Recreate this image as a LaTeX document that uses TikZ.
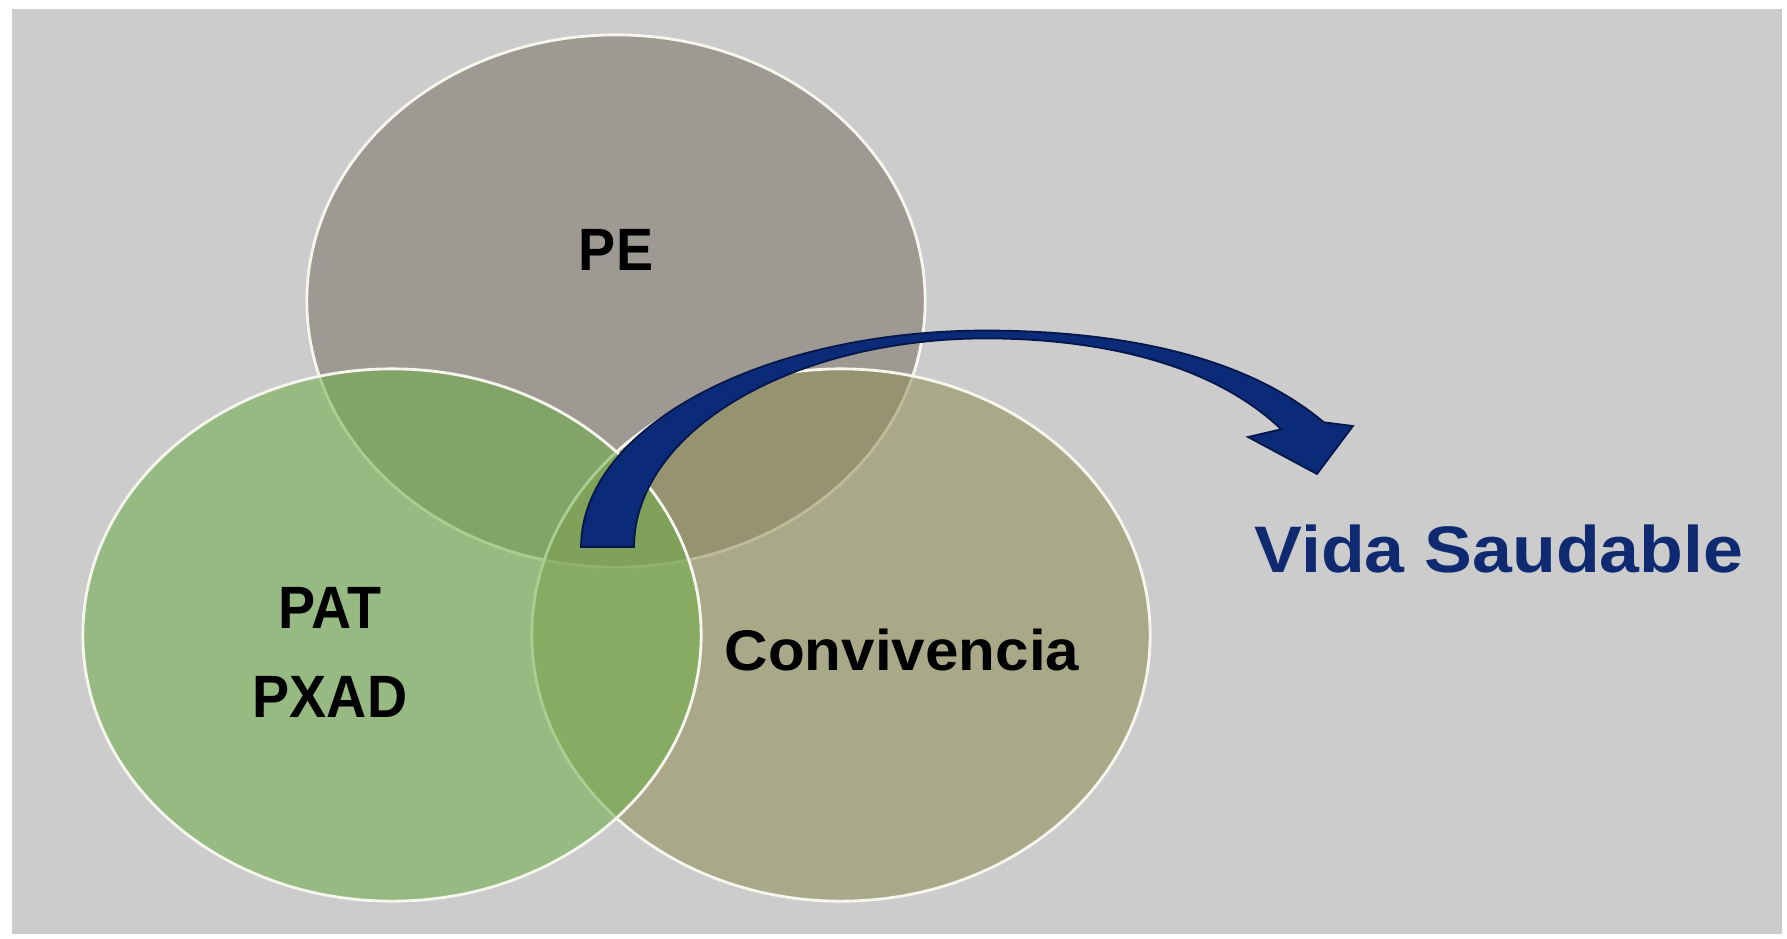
\documentclass[tikz,border=0pt]{standalone}
\usepackage{fontspec}
\setmainfont{Liberation Sans}
\newfontfamily\fnarrow[FakeStretch=0.93,UprightFont={* Bold}]{Liberation Sans}
\newfontfamily\fconv[FakeStretch=1.05,UprightFont={* Bold}]{Liberation Sans}
\newfontfamily\fvida[FakeStretch=1.09,UprightFont={* Bold}]{Liberation Sans}
\definecolor{pagebg}{RGB}{204,204,204}
\definecolor{pefill}{RGB}{158,154,147}
\definecolor{convfill}{RGB}{143,143,86}
\definecolor{patfill}{RGB}{109,173,71}
\definecolor{ringline}{RGB}{246,246,238}
\definecolor{navy}{RGB}{11,42,120}
\definecolor{navydark}{RGB}{4,22,74}
\definecolor{navytext}{RGB}{16,42,114}
\tikzset{
  ring/.style={line width=0.8pt, draw=ringline},
  lbl/.style={anchor=base, inner sep=0pt, text=black, font=\fnarrow\fontsize{17pt}{20pt}\selectfont},
  lblwide/.style={anchor=base, inner sep=0pt, text=black, font=\fconv\fontsize{16.3pt}{20pt}\selectfont},
  goal/.style={anchor=base, inner sep=0pt, text=navytext, font=\fvida\fontsize{18.7pt}{22pt}\selectfont},
}
\begin{document}
\begin{tikzpicture}[x=0.01cm,y=-0.01cm]
\useasboundingbox (0,0) rectangle (1787,938);
\fill[white] (0,0) rectangle (1787,938);
\fill[pagebg] (12,9) rectangle (1782,934);
% circles
\filldraw[ring, fill=pefill] (616,301) ellipse [x radius=3.09cm, y radius=2.66cm];
\filldraw[ring, fill=convfill, fill opacity=0.56] (841,635) ellipse [x radius=3.09cm, y radius=2.66cm];
\filldraw[ring, fill=patfill, fill opacity=0.55] (392,635) ellipse [x radius=3.09cm, y radius=2.66cm];
% curved block arrow (outer and inner edges, nearly elliptical)
\coordinate (rightbarb) at (1353,426);
\coordinate (tip) at (1317,474);
\coordinate (leftbarb) at (1248,437);
\filldraw[fill=navy, draw=navydark, line width=0.5pt, line join=miter]
  plot[domain=180:33.5, samples=100, variable=\t]
    ({986+405*cos(\t)}, {547-(216.5+25*sin(\t)*pow(max(cos(\t),0),2))*sin(\t)})
  -- (rightbarb) -- (tip) -- (leftbarb)
  -- plot[domain=33:180, samples=100, variable=\t]
    ({986+352*cos(\t)}, {547-(208.6+20*sin(\t)*pow(max(cos(\t),0),2))*sin(\t)})
  -- cycle;
% labels
\node[lbl] (pe) at (616,270) {PE};
\node[lbl] (pat) at (330,628) {PAT};
\node[lbl] (pxad) at (330,717) {PXAD};
\node[lblwide] (conv) at (902,670) {Convivencia};
\node[goal] (vida) at (1499,572) {Vida Saudable};
\end{tikzpicture}
\end{document}
